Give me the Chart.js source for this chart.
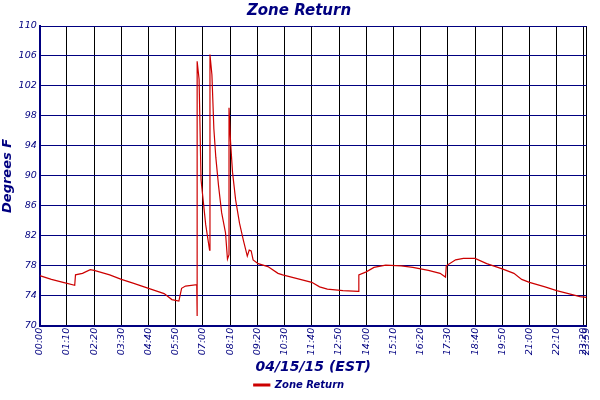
<!DOCTYPE html>
<html><head><meta charset="utf-8">
<script src="https://cdn.jsdelivr.net/npm/chart.js"></script>
<style>html,body{margin:0;padding:0;background:#fff}#w{width:600px;height:400px}</style>
</head><body><div id="w"><canvas id="c"></canvas></div>
<script>
const times = ["00:00","00:30","01:00","01:30","01:32","01:50","02:10","02:20","03:00","03:30","04:00","04:40","05:20","05:40","05:58","06:05","06:15","06:44",
"06:45","06:45","06:50","06:55","07:07","07:17","07:18","07:23","07:28","07:33","07:40","07:48","07:58","08:03","08:07","08:07","08:11","08:16","08:24","08:34","08:44","08:54","08:59","09:04","09:09","09:22","09:47","10:13","10:25",
"11:10","11:40","12:00","12:20","13:00","13:40","13:41","14:00","14:20","14:50","15:30","16:00","16:40","17:10","17:24","17:26","17:50","18:10","18:40","19:10","19:50","20:20","20:40","21:00","21:40","22:10","22:40","23:10","23:27"];
const zoneReturn = [76.7,76.2,75.8,75.4,76.8,77.0,77.5,77.4,76.8,76.2,75.7,75.0,74.3,73.5,73.3,75.0,75.3,75.5,
71.3,105.3,102.9,89.5,83.5,80.1,106.2,103.5,96.3,92.5,88.7,85.1,82.4,78.9,79.5,99.1,94.5,90.5,86.8,83.7,81.4,79.3,80.1,80.0,78.8,78.3,77.9,77.0,76.8,
76.2,75.8,75.2,74.9,74.7,74.6,76.8,77.2,77.8,78.1,78.0,77.8,77.4,77.0,76.5,78.0,78.8,79.0,79.0,78.3,77.6,77.0,76.2,75.8,75.2,74.7,74.3,73.9,73.8];
const yTicks = [70,74,78,82,86,90,94,98,102,106,110];
const xTickStep = 70, xMax = 1407;
const toMin = t => { const [h,m] = t.split(':').map(Number); return h*60+m; };
const fmt = v => String(Math.floor(v/60)).padStart(2,'0')+':'+String(v%60).padStart(2,'0');
const navy = '#000080';
const f = (s,b) => ({family:'DejaVu Sans', size:s, style:'italic', weight:b?'bold':'normal'});
new Chart(document.getElementById('c'), {
  type:'line',
  data:{datasets:[{label:'Zone Return', data:times.map((t,i)=>({x:toMin(t),y:zoneReturn[i]})),
    borderColor:'#cc0000', backgroundColor:'#cc0000', borderWidth:1.2, pointRadius:0, tension:0}]},
  options:{responsive:true, maintainAspectRatio:false, animation:false,
    layout:{padding:{top:0,right:2,left:0,bottom:0}},
    plugins:{
      title:{display:true, text:'Zone Return', color:navy, font:f(15,true), padding:{top:2,bottom:6}},
      legend:{position:'bottom', labels:{color:navy, font:f(10,true), boxWidth:16, boxHeight:2, padding:2}},
      tooltip:{enabled:false}},
    scales:{
      x:{type:'linear', min:0, max:xMax,
        afterBuildTicks:a=>{const t=[];for(let v=0;v<=1400;v+=xTickStep)t.push({value:v});t.push({value:xMax});a.ticks=t;},
        ticks:{color:navy, font:f(9.5), maxRotation:90, minRotation:90, autoSkip:false, padding:2,
          callback:(v)=> v===xMax?'23:59':fmt(v)},
        grid:{color:'#000000', lineWidth:1, drawTicks:false},
        border:{color:navy, width:2},
        title:{display:true, text:'04/15/15 (EST)', color:navy, font:f(14,true), padding:{top:2,bottom:2}}},
      y:{min:70, max:110,
        afterBuildTicks:a=>{a.ticks=yTicks.map(v=>({value:v}));},
        ticks:{color:navy, font:f(9.5), padding:3},
        grid:{color:navy, lineWidth:1, drawTicks:false},
        border:{color:navy, width:2},
        title:{display:true, text:'Degrees F', color:navy, font:f(13,true), padding:{top:0,bottom:0}}}
    }}
});
</script></body></html>
